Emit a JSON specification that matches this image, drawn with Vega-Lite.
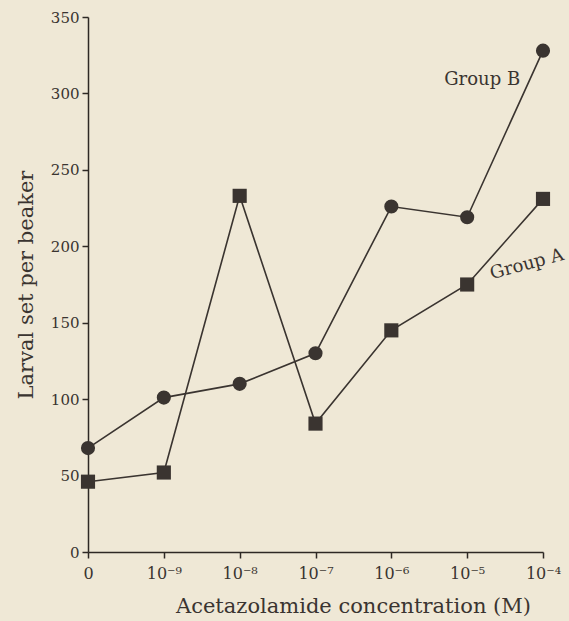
{
  "$schema": "https://vega.github.io/schema/vega-lite/v6.json",
  "width": 455,
  "height": 535,
  "autosize": "none",
  "padding": {"left": 88, "top": 17, "right": 26, "bottom": 69},
  "background": "#efe8d6",
  "config": {
    "view": {"stroke": null},
    "font": "DejaVu Serif",
    "axis": {"grid": false, "domainColor": "#2e2925", "tickColor": "#2e2925", "labelColor": "#3a3430", "titleColor": "#3a3430", "labelFont": "DejaVu Serif", "titleFont": "DejaVu Serif", "titleFontWeight": "normal", "domainWidth": 1.5, "tickWidth": 1.5}
  },
  "datasets": {
    "pts": [
      {"conc": "0", "group": "Group A", "larvae": 46},
      {"conc": "10⁻⁹", "group": "Group A", "larvae": 52},
      {"conc": "10⁻⁸", "group": "Group A", "larvae": 233},
      {"conc": "10⁻⁷", "group": "Group A", "larvae": 84},
      {"conc": "10⁻⁶", "group": "Group A", "larvae": 145},
      {"conc": "10⁻⁵", "group": "Group A", "larvae": 175},
      {"conc": "10⁻⁴", "group": "Group A", "larvae": 231},
      {"conc": "0", "group": "Group B", "larvae": 68},
      {"conc": "10⁻⁹", "group": "Group B", "larvae": 101},
      {"conc": "10⁻⁸", "group": "Group B", "larvae": 110},
      {"conc": "10⁻⁷", "group": "Group B", "larvae": 130},
      {"conc": "10⁻⁶", "group": "Group B", "larvae": 226},
      {"conc": "10⁻⁵", "group": "Group B", "larvae": 219},
      {"conc": "10⁻⁴", "group": "Group B", "larvae": 328}
    ]
  },
  "encoding": {
    "x": {
      "field": "conc", "type": "ordinal",
      "sort": ["0", "10⁻⁹", "10⁻⁸", "10⁻⁷", "10⁻⁶", "10⁻⁵", "10⁻⁴"],
      "scale": {"type": "point", "padding": 0},
      "axis": {"title": "Acetazolamide concentration (M)", "labelAngle": 0, "labelFontSize": 16, "titleFontSize": 21, "tickSize": 6, "labelPadding": 7, "titlePadding": 14, "titleX": 265, "titleAnchor": null, "titleAlign": "center"}
    },
    "y": {
      "field": "larvae", "type": "quantitative",
      "scale": {"domain": [0, 350], "nice": false},
      "axis": {"title": "Larval set per beaker", "values": [0, 50, 100, 150, 200, 250, 300, 350], "labelFontSize": 15, "titleFontSize": 21, "tickSize": 6, "labelPadding": 3, "titlePadding": 14}
    }
  },
  "layer": [
    {
      "data": {"name": "pts"},
      "mark": {"type": "line", "color": "#3a3430", "strokeWidth": 1.6},
      "encoding": {"detail": {"field": "group"}}
    },
    {
      "data": {"name": "pts"},
      "mark": {"type": "point", "filled": true, "opacity": 1, "color": "#3a3430"},
      "encoding": {
        "shape": {"field": "group", "type": "nominal", "scale": {"domain": ["Group A", "Group B"], "range": ["square", "circle"]}, "legend": null},
        "size": {"field": "group", "type": "nominal", "scale": {"domain": ["Group A", "Group B"], "range": [200, 200]}, "legend": null}
      }
    },
    {
      "data": {"values": [
        {"conc": "10⁻⁵", "larvae": 309, "label": "Group B", "ang": 0, "off": 15},
        {"conc": "10⁻⁴", "larvae": 188, "label": "Group A", "ang": -15, "off": -16}
      ]},
      "mark": {"type": "text", "fontSize": 18, "color": "#3a3430", "font": "DejaVu Serif"},
      "encoding": {
        "text": {"field": "label"},
        "angle": {"field": "ang", "type": "quantitative", "scale": null},
        "xOffset": {"field": "off", "type": "quantitative", "scale": null}
      }
    }
  ]
}
